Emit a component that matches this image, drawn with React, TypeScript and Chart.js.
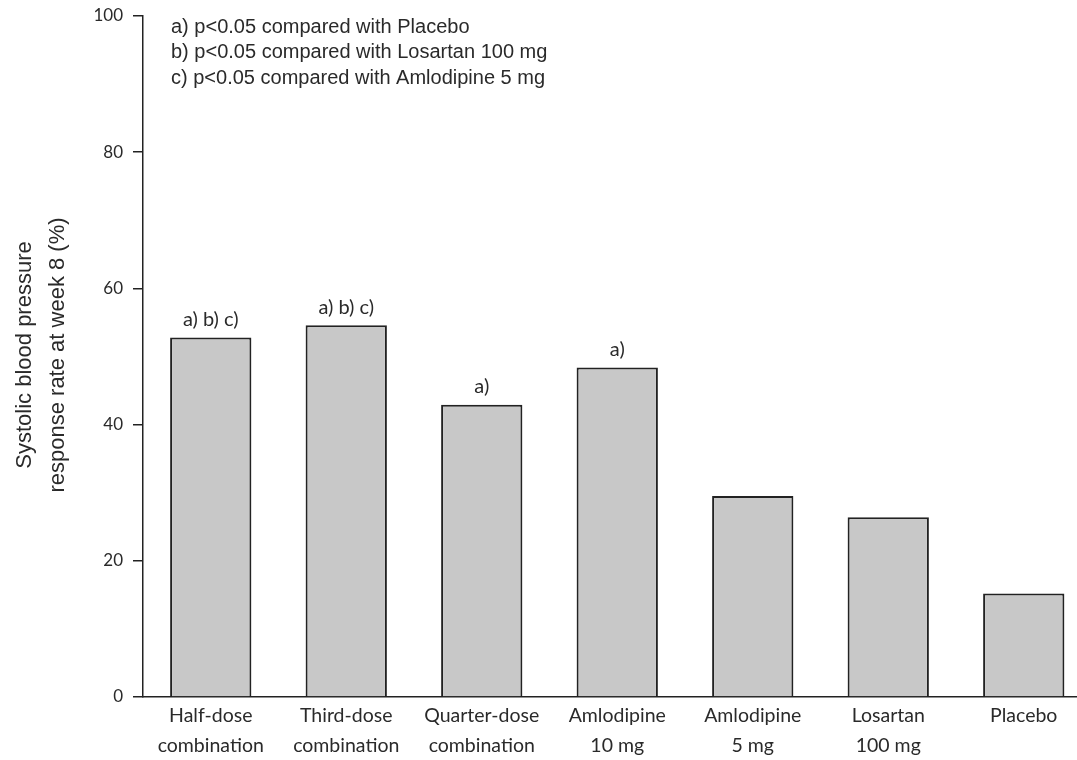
import React, { useEffect, useRef } from "react";
import { Chart, registerables } from "chart.js";

Chart.register(...registerables);

const categories: string[][] = [
  ["Half-dose", "combination"],
  ["Third-dose", "combination"],
  ["Quarter-dose", "combination"],
  ["Amlodipine", "10 mg"],
  ["Amlodipine", "5 mg"],
  ["Losartan", "100 mg"],
  ["Placebo"],
];
const responseRates: number[] = [52.8, 54.6, 42.9, 48.4, 29.5, 26.4, 15.2];
const significance: string[] = ["a) b) c)", "a) b) c)", "a)", "a)", "", "", ""];
const footnotes: string[] = [
  "a) p<0.05 compared with Placebo",
  "b) p<0.05 compared with Losartan 100 mg",
  "c) p<0.05 compared with Amlodipine 5 mg",
];
const yTitle: string[] = ["Systolic blood pressure", "response rate at week 8 (%)"];

const TICK_FONT = "Lato, 'Noto Sans', sans-serif";
const NOTE_FONT = "'Liberation Sans', Arial, sans-serif";
const TEXT = "#2a2a2a";

const overlay = {
  id: "overlay",
  afterDatasetsDraw(chart: any) {
    const ctx = chart.ctx;
    const x = chart.scales.x;
    const y = chart.scales.y;
    ctx.save();
    ctx.fillStyle = TEXT;
    ctx.font = `20px ${TICK_FONT}`;
    ctx.textAlign = "center";
    ctx.textBaseline = "middle";
    significance.forEach((s, i) => {
      if (!s) return;
      ctx.fillText(s, x.getPixelForValue(i), y.getPixelForValue(responseRates[i]) - 18);
    });
    ctx.font = `20px ${NOTE_FONT}`;
    ctx.textAlign = "left";
    ctx.textBaseline = "middle";
    footnotes.forEach((t, i) => {
      ctx.fillText(t, chart.chartArea.left + 28, 27 + i * 25.5);
    });
    ctx.font = `22px ${NOTE_FONT}`;
    ctx.textAlign = "center";
    ctx.textBaseline = "middle";
    const cy = 355;
    yTitle.forEach((t, i) => {
      ctx.save();
      ctx.translate(25 + i * 33, cy);
      ctx.rotate(-Math.PI / 2);
      ctx.fillText(t, 0, 0);
      ctx.restore();
    });
    ctx.restore();
  },
};

export default function App() {
  const ref = useRef<HTMLCanvasElement | null>(null);
  useEffect(() => {
    if (!ref.current) return;
    const chart = new Chart(ref.current, {
      type: "bar",
      data: {
        labels: categories as any,
        datasets: [
          {
            data: responseRates,
            backgroundColor: "#c8c8c8",
            borderColor: "#222",
            borderWidth: 2,
            categoryPercentage: 1,
            barPercentage: 0.6,
          },
        ],
      },
      options: {
        animation: false,
        responsive: false,
        maintainAspectRatio: false,
        layout: { padding: { top: 16, right: 18.5, left: 0, bottom: 0 } },
        plugins: { legend: { display: false }, tooltip: { enabled: false } },
        scales: {
          x: {
            grid: { display: false, tickLength: 0 },
            border: { display: true, color: "#222", width: 1.5 },
            ticks: {
              color: TEXT,
              font: { family: TICK_FONT, size: 19.5, lineHeight: 1.52 },
              padding: 4,
              maxRotation: 0,
              autoSkip: false,
            },
            afterFit(scale: any) {
              scale.height = 63;
              scale.paddingLeft = 0;
              scale.paddingRight = 0;
            },
          },
          y: {
            min: 0,
            max: 100,
            grid: { display: true, drawOnChartArea: false, tickLength: 10, color: "#222", lineWidth: 1.5 },
            border: { display: true, color: "#222", width: 1.5 },
            ticks: {
              stepSize: 20,
              color: TEXT,
              font: { family: TICK_FONT, size: 17 },
              padding: 10,
            },
            afterFit(scale: any) {
              scale.width = 143;
              scale.paddingTop = 0;
              scale.paddingBottom = 0;
            },
          },
        },
      },
      plugins: [overlay],
    });
    return () => chart.destroy();
  }, []);
  return (
    <div style={{ position: "absolute", left: 0, top: 0, width: 1077, height: 760, overflow: "hidden", background: "#fff" }}>
      <canvas ref={ref} width={1110} height={760} style={{ display: "block" }} />
    </div>
  );
}
